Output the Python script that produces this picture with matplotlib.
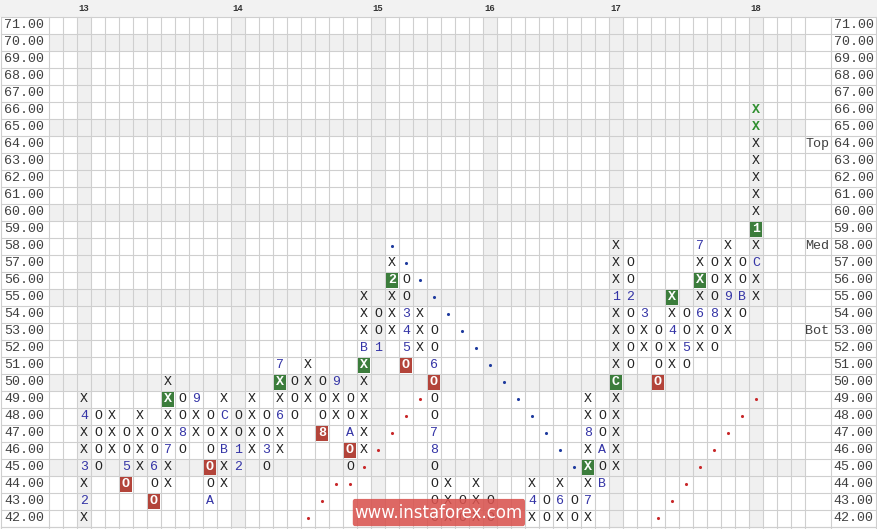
import matplotlib
matplotlib.use("Agg")
import matplotlib.pyplot as plt
from matplotlib.patches import Rectangle, FancyBboxPatch

# price rows and column grid
prices = list(range(42, 72))
n_cols = 54
month_cols = [2, 13, 23, 31, 40, 50]
month_labels = ["13", "14", "15", "16", "17", "18"]
shaded_rows = [70, 65, 60, 55, 50, 45]

# point & figure columns: column index, top price, symbols from top down
col_idx = [2, 3, 4, 5, 6, 7, 8, 9, 10, 11, 12, 13, 14, 15, 16, 17, 18, 19, 20,
           21, 22, 23, 24, 25, 26, 27, 28, 29, 30, 31, 34, 35, 36, 37, 38, 39,
           40, 41, 42, 43, 44, 45, 46, 47, 48, 49, 50]
col_top = [49, 48, 48, 47, 48, 47, 50, 49, 49, 48, 49, 48, 49, 48, 51, 50, 51,
           50, 50, 49, 55, 54, 57, 56, 54, 53, 44, 43, 44, 43, 44, 43, 44, 43,
           49, 48, 58, 57, 54, 53, 55, 54, 58, 57, 58, 57, 66]
col_marks = ["X4XX3X2X", "OOOO", "XXX", "OO5O", "XXXX", "OO6OO", "XXXX7XX",
             "OO8O", "9XX", "OOOOOA", "XCXBXX", "OO12", "XXXX", "OO3O",
             "7XX6XX", "OOO", "XXX", "OOO8", "9XX", "OOAOO", "XXXBXXXXXX",
             "OO1", "X2XXX", "OO345O", "XXX", "OO6OOO78OOOO", "XXX", "OO",
             "XXX", "OO", "X4X", "OO", "X6X", "OO", "XX8XXX7X", "OOAOB",
             "XXX1XXXXCXXXXX", "OO2OOOO", "3XX", "OOOO", "XX4XX", "OO5O",
             "7XXX6XX", "OOO8OO", "XXX9XX", "OOBO", "XXXXXXX1XCXX"]

# highlighted boxes (column, price)
green_boxes = [(8, 49), (16, 50), (22, 51), (24, 56), (38, 45), (40, 50),
               (44, 55), (46, 56), (50, 59)]
red_boxes = [(5, 44), (7, 43), (11, 45), (19, 47), (21, 46), (25, 51),
             (27, 50), (43, 50)]
green_text = [(50, 66), (50, 65)]

# trend lines drawn as dots
blue_dot_cols = [24, 25, 26, 27, 28, 29, 30, 31, 32, 33, 34, 35, 36, 37]
blue_dot_prices = [58, 57, 56, 55, 54, 53, 52, 51, 50, 49, 48, 47, 46, 45]
red_dot_cols = [18, 19, 20, 21, 22, 23, 24, 25, 26,
                43, 44, 45, 46, 47, 48, 49, 50]
red_dot_prices = [42, 43, 44, 44, 45, 46, 47, 48, 49,
                  42, 43, 44, 45, 46, 47, 48, 49]

side_labels = ["Top", "Med", "Bot"]
side_prices = [64, 58, 53]

MONO = "Liberation Mono"
GRID = "#cfcfcf"
SHADE = "#f0f0f0"
GREEN = "#3c7d3c"
RED = "#b3443a"
BLUE = "#3434a6"

fig = plt.figure(figsize=(8.77, 5.29), dpi=100)
ax = fig.add_axes([0, 0, 1, 1])
x_left, x_right = -4.0, 58.643
y_bot, y_top = 41.38, 72.5
ax.set_xlim(x_left, x_right)
ax.set_ylim(y_bot, y_top)
ax.axis("off")

grid_l, grid_r = -0.5, n_cols - 0.5
extra_r = 55.36
lo, hi = min(prices) - 0.5, max(prices) + 0.5

# header strip
ax.add_patch(Rectangle((x_left, hi), x_right - x_left, y_top - hi,
                       color="#f2f2f2", lw=0, zorder=0))
for c, lab in zip(month_cols, month_labels):
    ax.text(c, hi + 0.5, lab, ha="center", va="center", fontsize=6.5,
            fontfamily=MONO, fontweight="bold", color="#333333")

# shaded rows and month columns
for r in shaded_rows:
    ax.add_patch(Rectangle((grid_l, r - 0.5), grid_r - grid_l, 1,
                           color=SHADE, lw=0, zorder=0))
for c in month_cols:
    ax.add_patch(Rectangle((c - 0.5, lo), 1, hi - lo + 0.02,
                           color=SHADE, lw=0, zorder=0))

# grid lines
for k in range(lo.__int__(), int(hi) + 1):
    ax.plot([x_left + 0.07, x_right - 0.07], [k + 0.5, k + 0.5], color=GRID,
            lw=0.8, zorder=1)
ax.plot([x_left + 0.07, x_right - 0.07], [lo, lo], color=GRID, lw=0.8, zorder=1)
for k in range(n_cols + 1):
    ax.plot([k - 0.5, k - 0.5], [y_bot, hi], color=GRID, lw=0.8, zorder=1)
for xv in [x_left + 0.1, extra_r, x_right - 0.07]:
    ax.plot([xv, xv], [y_bot, hi], color=GRID, lw=0.8, zorder=1)

# price labels on both sides
for p in prices:
    ax.text(-0.85, p, f"{p:.2f}", ha="right", va="center", fontsize=9.6,
            fontfamily=MONO, color="#404040")
    ax.text(x_right - 0.25, p, f"{p:.2f}", ha="right", va="center",
            fontsize=9.6, fontfamily=MONO, color="#404040")
for lab, p in zip(side_labels, side_prices):
    ax.text(extra_r - 0.12, p, lab, ha="right", va="center", fontsize=9.6,
            fontfamily=MONO, color="#404040")

# boxes
for c, p in green_boxes:
    ax.add_patch(Rectangle((c - 0.42, p - 0.42), 0.84, 0.84, color=GREEN,
                           lw=0, zorder=2))
for c, p in red_boxes:
    ax.add_patch(Rectangle((c - 0.42, p - 0.42), 0.84, 0.84, color=RED,
                           lw=0, zorder=2))
boxed = set(green_boxes) | set(red_boxes)
greens = set(green_text)

# symbols
for c, top, marks in zip(col_idx, col_top, col_marks):
    for i, s in enumerate(marks):
        p = top - i
        if (c, p) in boxed:
            color, weight = "white", "bold"
        elif (c, p) in greens:
            color, weight = "#2f8f2f", "bold"
        elif s in "XO":
            color, weight = "#222222", "normal"
        else:
            color, weight = BLUE, "normal"
        ax.text(c, p, s, ha="center", va="center", fontsize=9.5,
                fontfamily=MONO, fontweight=weight, color=color, zorder=3)

# trend line dots
ax.scatter(blue_dot_cols, blue_dot_prices, s=5, color="#1f3b9e", zorder=3,
           linewidths=0)
ax.scatter(red_dot_cols, red_dot_prices, s=5, color="#c8282a", zorder=3,
           linewidths=0)

# watermark
ax.add_patch(FancyBboxPatch((21.2, 41.55), 12.3, 1.6,
                            boxstyle="round,pad=0,rounding_size=0.15",
                            facecolor="#d9534f", alpha=0.88, lw=0, zorder=5))
ax.text(27.35, 42.35, "www.instaforex.com", ha="center", va="center",
        fontsize=12, color="white", zorder=6, fontfamily="DejaVu Sans")

fig.savefig("out.png", dpi=100)
